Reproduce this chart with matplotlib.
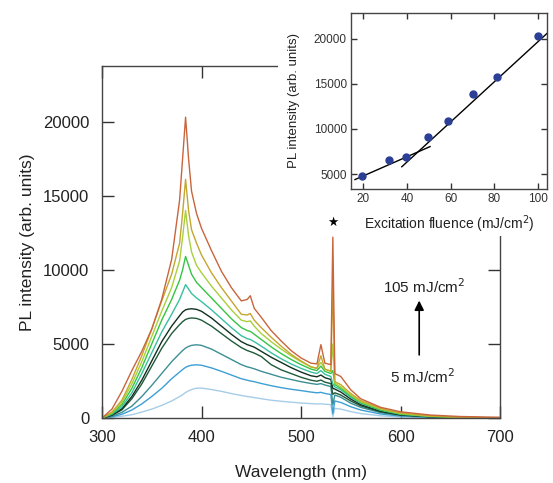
import matplotlib
matplotlib.use("Agg")
import matplotlib.pyplot as plt
from matplotlib.patches import Rectangle

plt.rcParams['font.family'] = ['Liberation Sans', 'DejaVu Sans']

# ---------------- main spectra data ----------------
wavelength = [300, 310, 320, 330, 340, 350, 360, 370, 378, 381, 384, 387, 390, 395, 400,
              410, 420, 430, 440, 446, 449, 453, 460, 470, 480, 490, 500, 510, 516, 520,
              524, 530, 532, 534, 540, 550, 560, 580, 600, 630, 660, 700]

spec_05 = [0, 40, 120, 220, 400, 600, 850, 1150, 1450, 1570, 1720, 1830, 1920, 2010, 2020,
           1920, 1800, 1650, 1520, 1450, 1420, 1380, 1300, 1200, 1130, 1070, 1010, 970, 950, 960,
           930, 900, 100, 650, 600, 430, 300, 150, 70, 30, 10, 0]
spec_10 = [0, 80, 250, 540, 950, 1450, 2000, 2650, 3100, 3270, 3420, 3510, 3560, 3590, 3560,
           3380, 3150, 2900, 2650, 2550, 2500, 2450, 2330, 2180, 2050, 1940, 1850, 1750, 1700, 1730,
           1660, 1580, 300, 1150, 1050, 760, 540, 270, 130, 50, 20, 0]
spec_20 = [0, 120, 380, 800, 1450, 2200, 3000, 3800, 4350, 4550, 4720, 4830, 4900, 4940, 4900,
           4650, 4300, 3950, 3600, 3450, 3400, 3320, 3150, 2950, 2750, 2600, 2450, 2330, 2270, 2320,
           2230, 2120, 900, 1550, 1400, 1000, 720, 360, 170, 70, 25, 0]
spec_32 = [0, 180, 550, 1300, 2300, 3500, 4700, 5700, 6300, 6500, 6650, 6720, 6750, 6720, 6600,
           6200, 5700, 5200, 4750, 4550, 4480, 4380, 4150, 3600, 3250, 3000, 2750, 2550, 2480, 2560,
           2420, 2320, 1600, 1700, 1550, 1150, 820, 420, 200, 80, 30, 0]
spec_40 = [0, 200, 620, 1450, 2550, 3850, 5150, 6200, 6900, 7150, 7300, 7350, 7370, 7330, 7200,
           6750, 6200, 5650, 5150, 4950, 4880, 4780, 4500, 4100, 3750, 3400, 3100, 2850, 2780, 2900,
           2720, 2600, 2000, 1950, 1750, 1280, 900, 460, 220, 90, 35, 0]
spec_50 = [0, 250, 750, 1700, 3000, 4400, 5800, 7000, 8000, 8500, 9000, 8700, 8400, 8100, 7850,
           7300, 6700, 6100, 5550, 5350, 5300, 5150, 4850, 4400, 4000, 3650, 3350, 3100, 3000, 3200,
           2950, 2800, 2300, 2100, 1900, 1400, 1000, 520, 250, 100, 40, 0]
spec_59 = [0, 300, 900, 2000, 3400, 5000, 6600, 8000, 9300, 10000, 10900, 10300, 9700, 9150, 8800,
           8100, 7400, 6700, 6100, 5900, 5850, 5650, 5300, 4800, 4350, 3950, 3600, 3300, 3200, 3500,
           3150, 3000, 3200, 2250, 2000, 1480, 1050, 550, 270, 110, 45, 0]
spec_70 = [0, 350, 1050, 2300, 3800, 5500, 7200, 8800, 10600, 12200, 14000, 12300, 11200, 10300, 9800,
           8900, 8100, 7300, 6600, 6500, 6550, 6200, 5700, 5150, 4650, 4200, 3800, 3450, 3350, 3750,
           3300, 3150, 5000, 2350, 2100, 1550, 1100, 600, 300, 120, 50, 0]
spec_81 = [0, 400, 1200, 2600, 4200, 6000, 7900, 9700, 11800, 13800, 16100, 14000, 12700, 11800, 11000,
           9800, 8800, 7900, 7000, 6950, 7050, 6600, 6100, 5450, 4850, 4300, 3850, 3450, 3350, 4200,
           3300, 3150, 9000, 2450, 2250, 1650, 1180, 650, 340, 140, 55, 0]
spec_105 = [0, 600, 1800, 3200, 4500, 6000, 8000, 10700, 14700, 17500, 20300, 17500, 15300, 13800, 12800,
            11300, 9900, 8800, 7900, 8000, 8250, 7400, 6800, 5900, 5200, 4550, 4050, 3700, 3650, 4950,
            3700, 3600, 12200, 3000, 2800, 1900, 1300, 720, 420, 200, 100, 50]

spectra = [spec_05, spec_10, spec_20, spec_32, spec_40, spec_50, spec_59, spec_70, spec_81, spec_105]
colors = ['#a6cde8', '#3d9fd4', '#3b8f93', '#1f5a3a', '#12301f', '#38bfa0', '#35c443',
          '#a9cf3c', '#c4a62e', '#c9653d']

# ---------------- inset data ----------------
fluence = [19.5, 32, 39.5, 49.5, 59, 70, 81, 100]
peak_int = [4800, 6550, 6900, 9140, 10930, 13880, 15800, 20290]
fit1_x = [16.3, 50.6]
fit1_y = [4400, 8050]
fit2_x = [37.7, 103.9]
fit2_y = [5820, 20550]

W, H = 553, 483
fig = plt.figure(figsize=(W / 100, H / 100), dpi=100)

# main axes
ax = fig.add_axes([102 / W, 1 - 418 / H, (500 - 102) / W, (418 - 66) / H])
for s, c in zip(spectra, colors):
    ax.plot(wavelength, s, color=c, lw=1.0)
ax.set_xlim(300, 700)
ax.set_ylim(0, 23750)
ax.set_xticks([300, 400, 500, 600, 700])
ax.set_yticks([0, 5000, 10000, 15000, 20000])
ax.tick_params(direction='in', length=8.5, width=1, top=True, right=True,
               labelsize=12, pad=9, colors='#333333', labelcolor='#222222')
for sp in ax.spines.values():
    sp.set_color('#444444')
    sp.set_linewidth(1)
ax.set_xlabel('Wavelength (nm)', fontsize=12.5, labelpad=14, color='#222222')
ax.set_ylabel('PL intensity (arb. units)', fontsize=12.5, labelpad=6, color='#222222')

ax.annotate('', xy=(618.8, 8110), xytext=(618.8, 4070),
            arrowprops=dict(arrowstyle='-|>', color='black', lw=1.2, mutation_scale=14))
ax.text(624, 8850, '105 mJ/cm$^2$', fontsize=11, ha='center', va='center', color='#222222')
ax.text(622, 2785, '5 mJ/cm$^2$', fontsize=11, ha='center', va='center', color='#222222')

# white cover behind inset
fig.patches.append(Rectangle((278 / W, 1 - 236 / H), 1, 1, transform=fig.transFigure,
                             facecolor='white', edgecolor='none', zorder=1))

# inset axes
ins = fig.add_axes([351 / W, 1 - 189 / H, (547 - 351) / W, (189 - 13) / H], zorder=2)
ins.plot(fit1_x, fit1_y, color='black', lw=1.0)
ins.plot(fit2_x, fit2_y, color='black', lw=1.0)
ins.plot(fluence, peak_int, 'o', color='#2a3f95', ms=5)
ins.set_xlim(14.5, 104)
ins.set_ylim(3360, 22830)
ins.set_xticks([20, 40, 60, 80, 100])
ins.set_yticks([5000, 10000, 15000, 20000])
ins.tick_params(direction='in', length=4, width=1, top=True, right=True,
                labelsize=8.5, pad=3, colors='#333333', labelcolor='#333333')
for sp in ins.spines.values():
    sp.set_color('#444444')
    sp.set_linewidth(1)
ins.set_xlabel('Excitation fluence (mJ/cm$^2$)', fontsize=10, labelpad=6, color='#222222')
ins.set_ylabel('PL intensity (arb. units)', fontsize=9.5, labelpad=10, color='#222222')

fig.text(332.5 / W, 1 - 222 / H, '\u2605', fontsize=9, ha='center', va='center',
         color='black', family='DejaVu Sans', zorder=3)

fig.savefig('out.png', dpi=100)
